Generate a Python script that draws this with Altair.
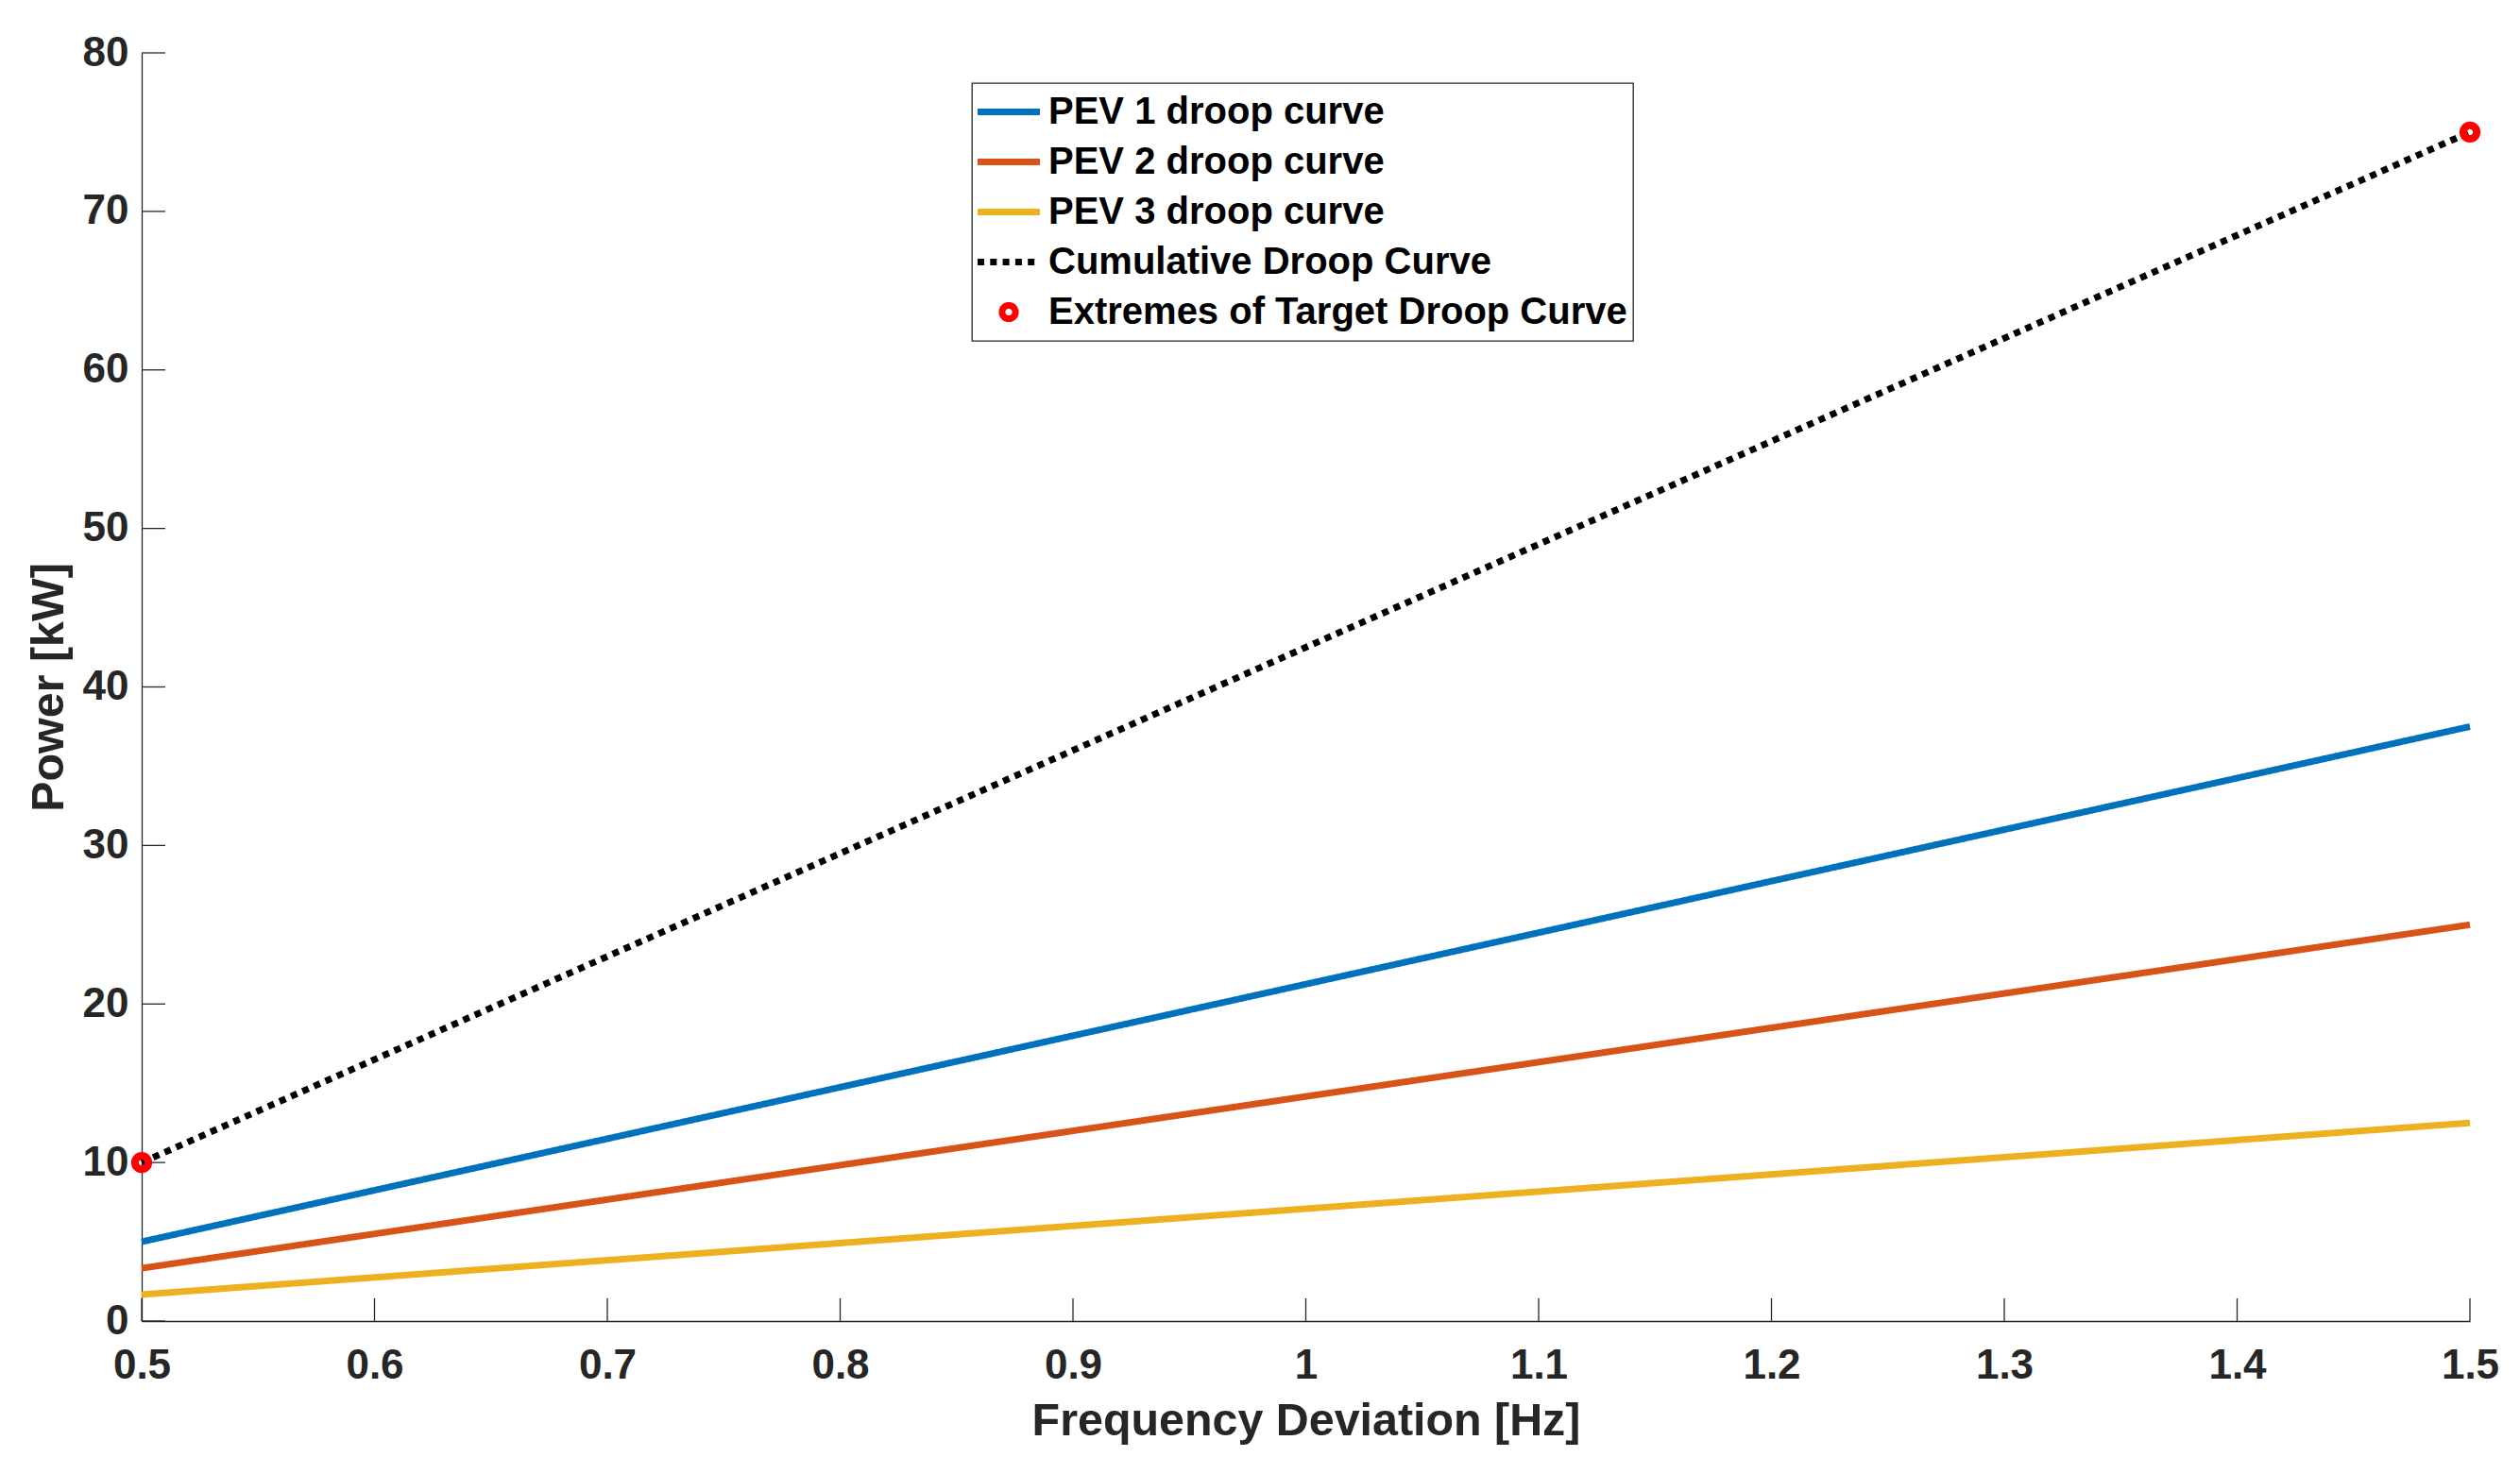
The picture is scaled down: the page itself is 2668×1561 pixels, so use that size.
import altair as alt
import pandas as pd

# ---------------- data ----------------
series_names = [
    "PEV 1 droop curve",
    "PEV 2 droop curve",
    "PEV 3 droop curve",
    "Cumulative Droop Curve",
    "Extremes of Target Droop Curve",
]
series_colors = ["#0072BD", "#D95319", "#EDB120", "#000000", "#FF0000"]

freq = [0.5, 1.5]
pev1 = [5.0, 37.5]
pev2 = [3.33, 25.0]
pev3 = [1.67, 12.5]
cumulative = [10.0, 75.0]

target_freq = [0.5, 1.5]
target_power = [10.0, 75.0]

x_ticks = [0.5, 0.6, 0.7, 0.8, 0.9, 1.0, 1.1, 1.2, 1.3, 1.4, 1.5]
y_ticks = [0, 10, 20, 30, 40, 50, 60, 70, 80]

# ---------------- tables ----------------
rows = []
for name, vals in zip(series_names[:4], [pev1, pev2, pev3, cumulative]):
    for f, v in zip(freq, vals):
        rows.append({"series": name, "x": f, "y": v})
lines_df = pd.DataFrame(rows)
pts_df = pd.DataFrame({"series": series_names[4], "x": target_freq, "y": target_power})
xt_df = pd.DataFrame({"x": x_ticks})
yt_df = pd.DataFrame({"y": y_ticks})

W, H = 2465, 1343
AX = "#262626"
FONT = "Liberation Sans"
SYM = 1764  # symbol area (42 px box)

line_path = "M-1.571,0H1.571"
# ring marker drawn with cubic curves (r = 0.338 in symbol units)
ring_path = (
    "M0.338,0C0.338,0.187 0.187,0.338 0,0.338C-0.187,0.338 -0.338,0.187 -0.338,0"
    "C-0.338,-0.187 -0.187,-0.338 0,-0.338C0.187,-0.338 0.338,-0.187 0.338,0Z"
)

x_scale = alt.Scale(domain=[0.5, 1.5], nice=False, zero=False)
y_scale = alt.Scale(domain=[0, 80], nice=False)

x_axis = alt.Axis(
    values=x_ticks, format="~g", title="Frequency Deviation [Hz]",
    ticks=False, grid=False, labelFlush=False, labelPadding=25,
    titleY=105, titleBaseline="middle",
)
y_axis = alt.Axis(
    values=y_ticks, format="d", title="Power [kW]",
    ticks=False, grid=False, labelFlush=False, labelPadding=14,
    titleX=-99, titleBaseline="middle",
)

legend = alt.Legend(title=None, orient="none", legendX=879, legendY=32, values=series_names)

color = alt.Color("series:N", scale=alt.Scale(domain=series_names, range=series_colors), legend=legend)
dash = alt.StrokeDash(
    "series:N",
    scale=alt.Scale(domain=series_names, range=[[1, 0], [1, 0], [1, 0], [7, 6.3], [1, 0]]),
    legend=legend,
)
shape = alt.Shape(
    "series:N",
    scale=alt.Scale(domain=series_names, range=[line_path] * 4 + [ring_path]),
    legend=legend,
)

xticks_layer = alt.Chart(xt_df).mark_rule(color=AX, strokeWidth=1.3).encode(
    x=alt.X("x:Q", scale=x_scale, axis=x_axis),
    y=alt.value(H),
    y2=alt.value(H - 24),
)
yticks_layer = alt.Chart(yt_df).mark_rule(color=AX, strokeWidth=1.3).encode(
    y=alt.Y("y:Q", scale=y_scale, axis=y_axis),
    x=alt.value(0),
    x2=alt.value(25),
)

lines = alt.Chart(lines_df).mark_line(strokeWidth=7, strokeCap="butt").encode(
    x=alt.X("x:Q", scale=x_scale, axis=x_axis),
    y=alt.Y("y:Q", scale=y_scale, axis=y_axis),
    color=color,
    strokeDash=dash,
    detail="series:N",
)

points = alt.Chart(pts_df).mark_point(filled=False, strokeWidth=8, size=SYM, opacity=1).encode(
    x=alt.X("x:Q", scale=x_scale, axis=x_axis),
    y=alt.Y("y:Q", scale=y_scale, axis=y_axis),
    color=color,
    shape=shape,
)

chart = (
    alt.layer(xticks_layer, yticks_layer, lines, points)
    .properties(
        width=W, height=H,
        autosize=alt.AutoSizeParams(type="none"),
        padding={"left": 142, "top": 48, "right": 45, "bottom": 150},
        background="white",
    )
    .configure_view(stroke=None)
    .configure_axis(
        domainColor=AX, domainWidth=1.3,
        labelFont=FONT, labelFontWeight="bold", labelFontSize=44, labelColor=AX,
        titleFont=FONT, titleFontWeight="bold", titleFontSize=48.4, titleColor=AX,
    )
    .configure_legend(
        labelFont=FONT, labelFontWeight="bold", labelFontSize=40, labelColor="#000000",
        labelLimit=2000, labelOffset=17.5,
        symbolSize=SYM, symbolStrokeWidth=7, symbolOffset=8.5,
        clipHeight=49,
        padding=6, rowPadding=4,
        strokeColor=AX, strokeWidth=1.3, fillColor="white",
    )
)

chart.save("out.html", embed_options={"renderer": "svg", "actions": False})
